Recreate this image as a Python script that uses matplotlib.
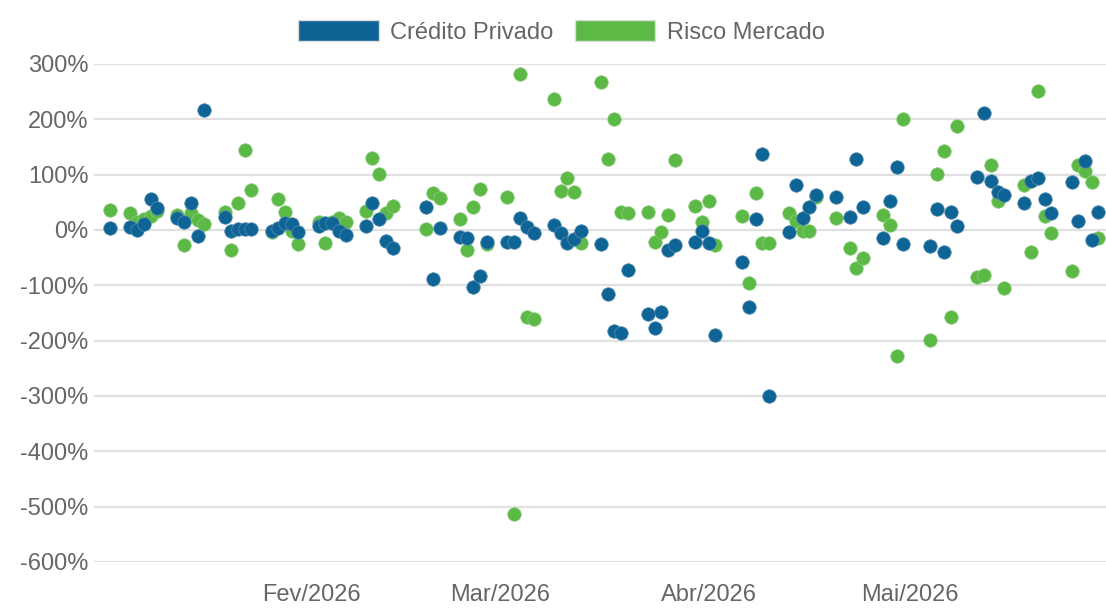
import matplotlib
matplotlib.use("Agg")
import matplotlib.pyplot as plt
from matplotlib.patches import Patch
from datetime import datetime

# ---------------- DATA ----------------
# dias uteis por mes (2026)
dias_jan = [2, 5, 6, 7, 8, 9, 12, 13, 14, 15, 16, 19, 20, 21, 22, 23, 26, 27, 28, 29, 30]
dias_fev = [2, 3, 4, 5, 6, 9, 10, 11, 12, 13, 18, 19, 20, 23, 24, 25, 26, 27]
dias_mar = [2, 3, 4, 5, 6, 9, 10, 11, 12, 13, 16, 17, 18, 19, 20, 23, 24, 25, 26, 27, 30, 31]
dias_abr = [1, 2, 6, 7, 8, 9, 10, 13, 14, 15, 16, 17, 20, 22, 23, 24, 27, 28, 29, 30]
dias_mai = [4, 5, 6, 7, 8, 11, 12, 13, 14, 15, 18, 19, 20, 21, 22, 25, 26, 27, 28, 29]

# Credito Privado (%)
credito = [
    3, 6, 0, 10, 56, 39, 22, 14, 48, -11, 217, 23, -1, 1, 1, 1, -1, 4, 13, 10, -4,
    7, 12, 12, -1, -9, 7, 48, 19, -19, -33, 42, -89, 3, -12, -14, -103, -83, -21,
    -21, -21, 22, 5, -5, 9, -5, -24, -16, -2, -26, -116, -183, -187, -72, -152, -178, -149, -37, -27, -22, -1,
    -23, -190, -58, -140, 20, 138, -300, -3, 82, 21, 42, 63, 60, 23, 129, 41, -14, 53, 114, -26,
    -29, 38, -40, 33, 7, 95, 211, 88, 68, 63, 48, 89, 94, 56, 31, 86, 17, 124, -18, 33,
]

# Risco Mercado (%)
risco = [
    37, 30, 14, 20, 25, 34, 27, -28, 30, 18, 11, 33, -36, 49, 145, 72, -3, 56, 33, -2, -25,
    14, -24, 15, 21, 15, 35, 131, 102, 30, 43, 2, 67, 57, 20, -36, 41, 75, -25,
    60, -514, 282, -158, -160, 237, 71, 94, 68, -24, 267, 128, 201, 33, 30, 33, -22, -4, 27, 126, 43, 14,
    53, -27, 25, -95, 66, -24, -24, 30, 17, -1, -1, 60, 21, -33, -68, -51, 28, 9, -227, 200,
    -199, 102, 142, -157, 188, -85, -81, 118, 52, -105, 81, -40, 252, 25, -5, -74, 118, 106, 86, -15,
]

meses_ticks = [2, 3, 4, 5]
meses_labels = ["Fev/2026", "Mar/2026", "Abr/2026", "Mai/2026"]
y_ticks = [300, 200, 100, 0, -100, -200, -300, -400, -500, -600]

# ---------------- BUILD DATES ----------------
datas = []
for mes, dias in [(1, dias_jan), (2, dias_fev), (3, dias_mar), (4, dias_abr), (5, dias_mai)]:
    for d in dias:
        datas.append(datetime(2026, mes, d))

AZUL = "#0f6496"
VERDE = "#5cb946"
CINZA = "#666666"

plt.rcParams["font.family"] = ["Liberation Sans", "DejaVu Sans"]

fig = plt.figure(figsize=(11.06, 6.08), dpi=100)
ax = fig.add_axes([94 / 1106, 46 / 608, 1 - 94 / 1106, (562 - 64) / 608])

ax.scatter(datas, risco, s=95, color=VERDE, edgecolor="#8fce80", linewidth=0.5, zorder=3, clip_on=False)
ax.scatter(datas, credito, s=95, color=AZUL, edgecolor="#5a8fb0", linewidth=0.5, zorder=4, clip_on=False)

ax.set_ylim(-600, 300)
ax.set_yticks(y_ticks)
ax.set_yticklabels([f"{v}%" for v in y_ticks])
ax.set_xlim(datetime(2025, 12, 30, 14), datetime(2026, 5, 30, 3))
ax.set_xticks([datetime(2026, m, 1) for m in meses_ticks])
ax.set_xticklabels(meses_labels)

ax.grid(axis="y", color="#e0e0e0", linewidth=1.6, zorder=0)
ax.set_axisbelow(True)
for s in ax.spines.values():
    s.set_visible(False)
ax.tick_params(axis="both", length=0, labelsize=17, labelcolor=CINZA)
ax.tick_params(axis="y", pad=4)
ax.tick_params(axis="x", pad=16)

handles = [Patch(facecolor=AZUL, edgecolor="#dddddd", label="Crédito Privado"),
           Patch(facecolor=VERDE, edgecolor="#dddddd", label="Risco Mercado")]
fig.legend(handles=handles, loc="center", bbox_to_anchor=(561.5 / 1106, 1 - 32 / 608),
           ncol=2, frameon=False, fontsize=17, labelcolor=CINZA,
           handlelength=3.4, handleheight=1.0, handletextpad=0.5, columnspacing=0.9)

fig.savefig("out.png", dpi=100)
